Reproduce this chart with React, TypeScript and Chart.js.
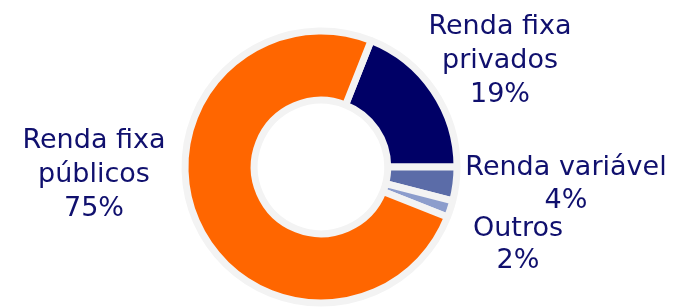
import React, { useEffect, useRef } from "react";
import { Chart, registerables } from "chart.js";

Chart.register(...registerables);

const categories = ["Renda fixa privados", "Renda variável", "Outros", "Renda fixa públicos"];
const values = [19, 4, 2, 75];
const colors = ["#000066", "#5b6ca8", "#8c9dcc", "#ff6600"];
const labelLines = [["Renda fixa", "privados"], ["Renda variável"], ["Outros"], ["Renda fixa", "públicos"]];
// label anchor (center x, first baseline) relative to the doughnut centre
const labelOffsets = [
  [179, -133],
  [245, 8],
  [197, 69],
  [-227, -19],
];
const lineHeights = [34, 33, 32, 34];

const labelPlugin = {
  id: "outerLabels",
  afterDraw(chart: any) {
    const meta = chart.getDatasetMeta(0);
    const arc = meta.data[0];
    if (!arc) return;
    const { x: cx, y: cy } = arc.getProps(["x", "y"], true);
    const ctx = chart.ctx;
    ctx.save();
    ctx.font = '27px "DejaVu Sans", Verdana, sans-serif';
    ctx.fillStyle = "#10106e";
    ctx.textAlign = "center";
    ctx.textBaseline = "alphabetic";
    const total = values.reduce((a, b) => a + b, 0);
    categories.forEach((_, i) => {
      const lines = [...labelLines[i], Math.round((values[i] / total) * 100) + "%"];
      const [dx, dy] = labelOffsets[i];
      lines.forEach((t, j) => {
        ctx.fillText(t, cx + dx, cy + dy + j * lineHeights[i]);
      });
    });
    ctx.restore();
  },
};

export default function App() {
  const ref = useRef<HTMLCanvasElement>(null);
  useEffect(() => {
    if (!ref.current) return;
    const total = values.reduce((a, b) => a + b, 0);
    const chart = new Chart(ref.current, {
      type: "doughnut",
      data: {
        labels: categories,
        datasets: [
          {
            data: values,
            backgroundColor: colors,
            borderColor: "#f3f3f3",
            borderWidth: 7,
            borderAlign: "center",
          },
        ],
      },
      options: {
        responsive: false,
        animation: false,
        rotation: 90 - (values[0] / total) * 360,
        radius: 136,
        cutout: 67,
        layout: { padding: { left: 0, right: 34, top: 27, bottom: 0 } },
        plugins: { legend: { display: false }, tooltip: { enabled: false } },
      },
      plugins: [labelPlugin],
    });
    return () => chart.destroy();
  }, []);
  return (
    <div style={{ position: "fixed", left: 0, top: 0, width: 676, height: 307, background: "#fff" }}>
      <canvas ref={ref} width={676} height={307} style={{ width: 676, height: 307 }} />
    </div>
  );
}
